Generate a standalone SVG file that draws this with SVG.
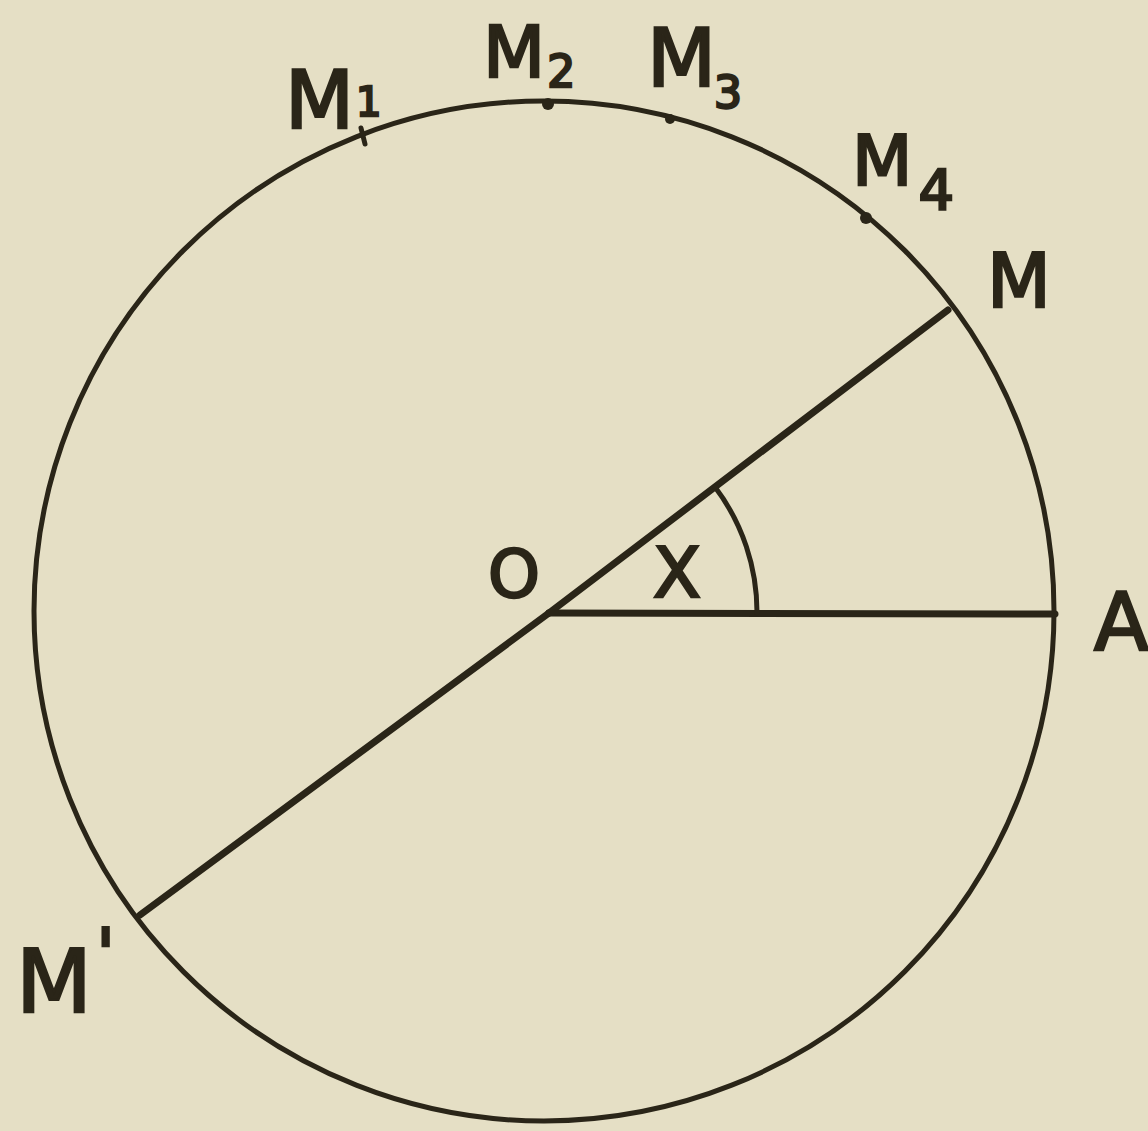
<svg xmlns="http://www.w3.org/2000/svg" width="1148" height="1131" viewBox="0 0 1148 1131">
<style>
.ln{fill:none;stroke:#2a2518;stroke-linecap:round}
.lb{font-family:"DejaVu Sans","Liberation Sans",sans-serif;fill:#2a2518;stroke:#2a2518;stroke-width:2.5}
.dot{fill:#2a2518}
</style>
<rect width="1148" height="1131" fill="#e5dfc5"/>
<g id="circle">
<circle class="ln" cx="544" cy="611" r="510" stroke-width="5"/>
</g>
<g id="connectors">
<line class="ln" x1="549" y1="613" x2="948" y2="310" stroke-width="7"/>
<line class="ln" x1="549" y1="613" x2="140" y2="915" stroke-width="7"/>
<line class="ln" x1="549" y1="613" x2="1055" y2="614" stroke-width="7"/>
<path class="ln" d="M757 613 A208 208 0 0 0 715 487" stroke-width="5"/>
</g>
<g id="M1">
<line class="ln" x1="361" y1="128" x2="365" y2="144" stroke-width="5"/>
<text class="lb" x="285" y="128" font-size="80">M<tspan font-size="40" dx="2" dy="-12">1</tspan></text>
</g>
<g id="M2">
<circle class="dot" cx="548" cy="104" r="6"/>
<text class="lb" x="483" y="77" font-size="72">M<tspan font-size="44" dx="2" dy="10">2</tspan></text>
</g>
<g id="M3">
<circle class="dot" cx="670" cy="119" r="5"/>
<text class="lb" x="647" y="86" font-size="80">M<tspan font-size="44" dx="-2" dy="22">3</tspan></text>
</g>
<g id="M4">
<circle class="dot" cx="866" cy="218" r="6"/>
<text class="lb" x="852" y="185" font-size="70">M<tspan font-size="56" dx="6" dy="24">4</tspan></text>
</g>
<g id="M">
<text class="lb" x="987" y="307" font-size="74">M</text>
</g>
<g id="O">
<text class="lb" x="488" y="597" font-size="66">O</text>
</g>
<g id="X">
<text class="lb" x="653" y="597" font-size="70">X</text>
</g>
<g id="A">
<text class="lb" x="1094" y="650" font-size="80">A</text>
</g>
<g id="Mprime">
<text class="lb" x="16" y="1012" font-size="88">M<tspan font-size="70" dx="4" dy="-34">'</tspan></text>
</g>
</svg>
